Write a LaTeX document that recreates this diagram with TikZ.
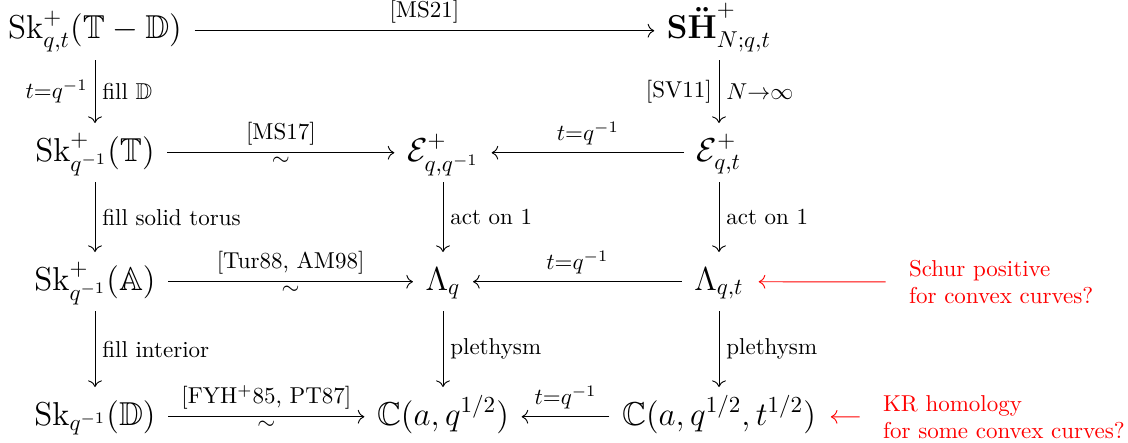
\documentclass[tikz,border=0pt]{standalone}
\usepackage{amsmath,amssymb}
\usepackage{tikz}
\usetikzlibrary{arrows.meta,positioning,calc}
\tikzset{
  obj/.style={font=\Large, anchor=base, inner sep=0.333em, text height=11pt, text depth=3.8pt},
  arr/.style={-{To[scale=1.15]}, shorten <=2pt, shorten >=2pt},
  lbl/.style={font=\normalsize, inner sep=3pt},
  note/.style={text=red, align=left, anchor=west, inner sep=2pt},
  redarr/.style={-{To[scale=1.15]}, red, shorten <=8pt, shorten >=3pt},
}

\begin{document}
\begin{tikzpicture}[x=0.435pt, y=-0.435pt]
  \useasboundingbox (0,0) rectangle (1128,442);
  % objects, by rows
  \node[obj] (skTD) at (95,39)  {$\mathrm{Sk}^+_{q,t}(\mathbb{T}-\mathbb{D})$};
  \node[obj] (shN)  at (719,39) {$\mathbf{S\ddot{H}}^+_{N;q,t}$};
  \node[obj] (skT)  at (95,161) {$\mathrm{Sk}^+_{q^{-1}}(\mathbb{T})$};
  \node[obj] (eqq)  at (443,161) {$\mathcal{E}^+_{q,q^{-1}}$};
  \node[obj] (eqt)  at (719,161) {$\mathcal{E}^+_{q,t}$};
  \node[obj] (skA)  at (95,290) {$\mathrm{Sk}^+_{q^{-1}}(\mathbb{A})$};
  \node[obj] (lq)   at (443,290) {$\Lambda_q$};
  \node[obj] (lqt)  at (719,290) {$\Lambda_{q,t}$};
  \node[obj] (skD)  at (95,425) {$\mathrm{Sk}_{q^{-1}}(\mathbb{D})$};
  \node[obj] (cq)   at (443,425) {$\mathbb{C}(a,q^{1/2})$};
  \node[obj] (cqt)  at (719,425) {$\mathbb{C}(a,q^{1/2},t^{1/2})$};
  % red remarks
  \node[note] (noteS)  at (904,282) {Schur positive\\for convex curves?};
  \node[note] (noteKR) at (878,417) {KR homology\\for some convex curves?};

  % horizontal maps
  \draw[arr] (skTD) -- node[lbl, above] {[MS21]} (shN);
  \draw[arr] (skT) -- node[lbl, above] {[MS17]} node[lbl, below, inner sep=1.5pt] {$\sim$} (eqq);
  \draw[arr] (eqt) -- node[lbl, above] {$t{=}q^{-1}$} (eqq);
  \draw[arr] (skA) -- node[lbl, above] {[Tur88, AM98]} node[lbl, below, inner sep=1.5pt] {$\sim$} (lq);
  \draw[arr] (lqt) -- node[lbl, above] {$t{=}q^{-1}$} (lq);
  \draw[arr] (skD) -- node[lbl, above] {[FYH$^+$85, PT87]} node[lbl, below, inner sep=1.5pt] {$\sim$} (cq);
  \draw[arr] (cqt) -- node[lbl, above] {$t{=}q^{-1}$} (cq);

  % vertical maps
  \draw[arr] (skTD) -- node[lbl, left] {$t{=}q^{-1}$} node[lbl, right] {fill $\mathbb{D}$} (skT);
  \draw[arr] (skT) -- node[lbl, right] {fill solid torus} (skA);
  \draw[arr] (skA) -- node[lbl, right] {fill interior} (skD);
  \draw[arr] (eqq) -- node[lbl, right] {act on 1} (lq);
  \draw[arr] (lq) -- node[lbl, right] {plethysm} (cq);
  \draw[arr] (shN) -- node[lbl, left] {[SV11]} node[lbl, right] {$N{\to}\infty$} (eqt);
  \draw[arr] (eqt) -- node[lbl, right] {act on 1} (lqt);
  \draw[arr] (lqt) -- node[lbl, right] {plethysm} (cqt);

  \draw[redarr] (noteS) -- (lqt);
  \draw[redarr] (noteKR) -- (cqt);
\end{tikzpicture}
\end{document}
